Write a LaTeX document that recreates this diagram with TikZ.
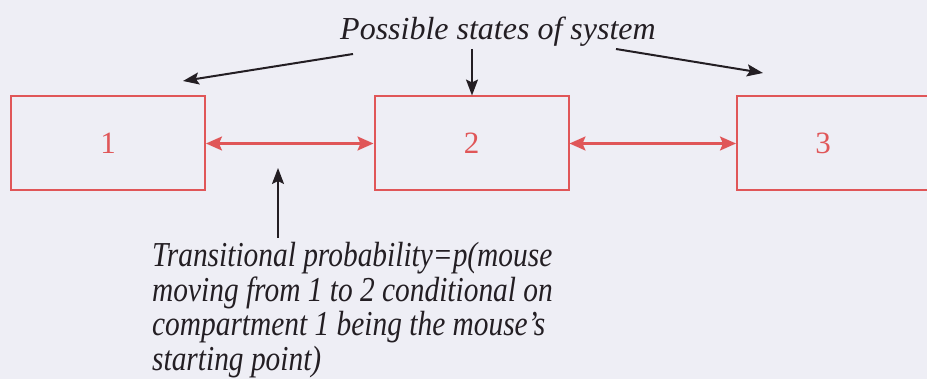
\documentclass[tikz,border=0pt]{standalone}
\usepackage{fontspec}
\setmainfont{Liberation Serif}
\usetikzlibrary{arrows.meta}
\definecolor{bgc}{RGB}{238,238,245}
\definecolor{boxred}{RGB}{224,86,88}
\definecolor{ink}{RGB}{35,30,35}
\tikzset{
  statebox/.style={draw=boxred, line width=2pt, minimum width=194pt, minimum height=94pt, inner sep=0pt, text=boxred, font=\fontsize{31}{31}\selectfont},
  redarrow/.style={draw=boxred, line width=2.2pt, {Stealth[length=16pt,width=14pt,inset=3pt]}-{Stealth[length=16pt,width=14pt,inset=3pt]}},
  blackarrow/.style={draw=ink, line width=2pt, -{Stealth[length=16pt,width=12pt,inset=3pt]}},
  caption/.style={text=ink, inner sep=0pt, font=\fontsize{32}{34.4}\selectfont\itshape}
}
\begin{document}
\begin{tikzpicture}[x=1pt,y=-1pt]
\fill[bgc] (0,0) rectangle (927,379);
\useasboundingbox (0,0) rectangle (927,379);
\begin{scope}
\clip (0,0) rectangle (927,379);
\node[statebox] (s1) at (108,143.5) {1};
\node[statebox] (s2) at (471.5,143.5) {2};
\node[statebox, minimum width=200pt] (s3) at (837,143.5) {\hspace*{-28pt}3};
\end{scope}
\draw[redarrow] (s1.east) -- (s2.west);
\draw[redarrow] (s2.east) -- (s3.west);
\node[caption, anchor=base west] (title) at (340,40) {Possible states of system};
\coordinate (t1) at (353,54);
\coordinate (h1) at (183,81);
\coordinate (t2) at (472,49);
\coordinate (t3) at (616,49);
\coordinate (h3) at (763,73);
\draw[blackarrow] (t1) -- (h1);
\draw[blackarrow] (t2) -- (s2.north -| t2);
\draw[blackarrow] (t3) -- (h3);
\node[caption, anchor=base west, xscale=0.84, transform shape, font=\fontsize{35}{34.4}\selectfont\itshape] (prob) at (152,267) {\parbox[t]{560pt}{\raggedright Transitional probability=p(mouse\\ moving from 1 to 2 conditional on\\ compartment 1 being the mouse's\\ starting point)}};
\coordinate (pa) at (278,238);
\coordinate (pb) at (278,168);
\draw[blackarrow] (pa) -- (pb);
\end{tikzpicture}
\end{document}
